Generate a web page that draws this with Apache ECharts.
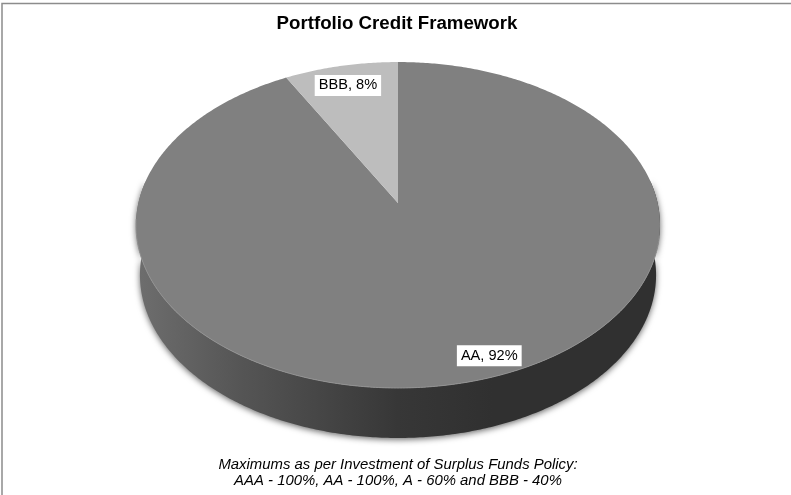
<!DOCTYPE html>
<html>
<head>
<meta charset="utf-8">
<style>html,body{margin:0;padding:0;background:#fff}#chart{width:791px;height:495px}</style>
<script src="https://cdn.jsdelivr.net/npm/echarts@6/dist/echarts.min.js"></script>
</head>
<body>
<div id="chart"></div>
<script>
const titleText = 'Portfolio Credit Framework';
const noteLines = ['Maximums as per Investment of Surplus Funds Policy:', 'AAA - 100%, AA - 100%, A - 60% and BBB - 40%'];
const categories = ['AA', 'BBB'];
const shares = [92, 8];
const sliceColors = ['#808080', '#bdbdbd'];

// Tilted disc: a circle seen in perspective, with a dark wall below it.
const disc = { cx: 398, cy: 203, a: 259.6, b: 160, k: 0.135, depth: 50 };
const labelNudge = [[17, -25.5], [7, 19.5]];
const total = shares.reduce((s, v) => s + v, 0);

function rimPoint(theta, drop) {
  const u = Math.sin(theta), v = Math.cos(theta), w = 1 + disc.k * v;
  const shrink = drop ? 0.985 : 1;
  return [disc.cx + shrink * disc.a * u / w, disc.cy + (drop || 0) - disc.b * v / w];
}
function arc(from, to, drop) {
  const n = Math.max(2, Math.ceil((to - from) / 0.01));
  const pts = [];
  for (let i = 0; i <= n; i++) pts.push(rimPoint(from + (to - from) * i / n, drop));
  return pts;
}
function sliceSpan(index) {
  let start = 0;
  for (let i = 0; i < index; i++) start += shares[i];
  return [start / total * 2 * Math.PI, (start + shares[index]) / total * 2 * Math.PI];
}

const wallGradient = new echarts.graphic.LinearGradient(0, 0, 1, 0, [
  { offset: 0, color: '#6e6e6e' },
  { offset: 0.2, color: '#555555' },
  { offset: 0.5, color: '#373737' },
  { offset: 0.68, color: '#303030' },
  { offset: 1, color: '#303030' }
]);

function renderWall(params) {
  if (params.dataIndex !== 0) return { type: 'group', children: [] };
  // The front half of the wall: from the right extreme round to the left one.
  const from = Math.PI / 2, to = 3 * Math.PI / 2;
  const upper = arc(from - 0.14, to + 0.14, 0);
  const lower = arc(from - 0.14, to + 0.14, disc.depth).reverse();
  return {
    type: 'polygon',
    shape: { points: upper.concat(lower) },
    style: { fill: wallGradient, shadowBlur: 6, shadowColor: 'rgba(0,0,0,0.6)', shadowOffsetY: 1.5 },
    silent: true
  };
}

function renderSlice(params) {
  const i = params.dataIndex;
  const [from, to] = sliceSpan(i);
  const outline = arc(from, to, 0);
  const mid = rimPoint((from + to) / 2, 0);
  const children = [{
    type: 'polygon',
    shape: { points: [[disc.cx, disc.cy]].concat(outline) },
    style: { fill: sliceColors[i] }
  }];
  if (i === 0) {
    // Thin highlight where the face meets the wall.
    children.push({
      type: 'polyline',
      shape: { points: arc(Math.PI / 2 + 0.2, 3 * Math.PI / 2 - 0.1, 0) },
      style: { fill: null, stroke: '#929292', lineWidth: 1 }
    });
  }
  children.push({
    type: 'text',
    z2: 10,
    x: mid[0] + labelNudge[i][0],
    y: mid[1] + labelNudge[i][1],
    style: {
      text: categories[i] + ', ' + shares[i] + '%',
      fontFamily: 'Liberation Sans',
      fontSize: 14.6,
      fill: '#000',
      align: 'center',
      verticalAlign: 'middle',
      backgroundColor: '#fff',
      padding: [3, 4, 3, 4]
    }
  });
  return { type: 'group', children };
}

const chart = echarts.init(document.getElementById('chart'), null, { renderer: 'canvas' });
const rows = categories.map((c, i) => [c, shares[i]]);
chart.setOption({
  animation: false,
  backgroundColor: '#fff',
  graphic: [
    // Frame: only the top and left edges fall inside the canvas.
    { type: 'polyline', shape: { points: [[2, 495], [2, 3.5], [791, 3.5]] }, style: { fill: null, stroke: '#8c8c8c', lineWidth: 1.5 }, silent: true, z: -1 },
    {
      type: 'text', x: 397, y: 23.5, silent: true,
      style: {
        text: titleText, fontFamily: 'Liberation Sans', fontWeight: 'bold',
        fontSize: 18.7, fill: '#000', align: 'center', verticalAlign: 'middle'
      }
    },
    {
      type: 'text', x: 398, y: 473, silent: true,
      style: {
        text: noteLines.join('\n'), fontFamily: 'Liberation Sans', fontStyle: 'italic',
        fontSize: 14.9, lineHeight: 16, fill: '#000', align: 'center', verticalAlign: 'middle'
      }
    }
  ],
  series: [
    { type: 'custom', coordinateSystem: 'none', data: rows, renderItem: renderWall, silent: true, z: 1 },
    { type: 'custom', coordinateSystem: 'none', data: rows, renderItem: renderSlice, silent: true, z: 2 }
  ]
});
</script>
</body>
</html>
